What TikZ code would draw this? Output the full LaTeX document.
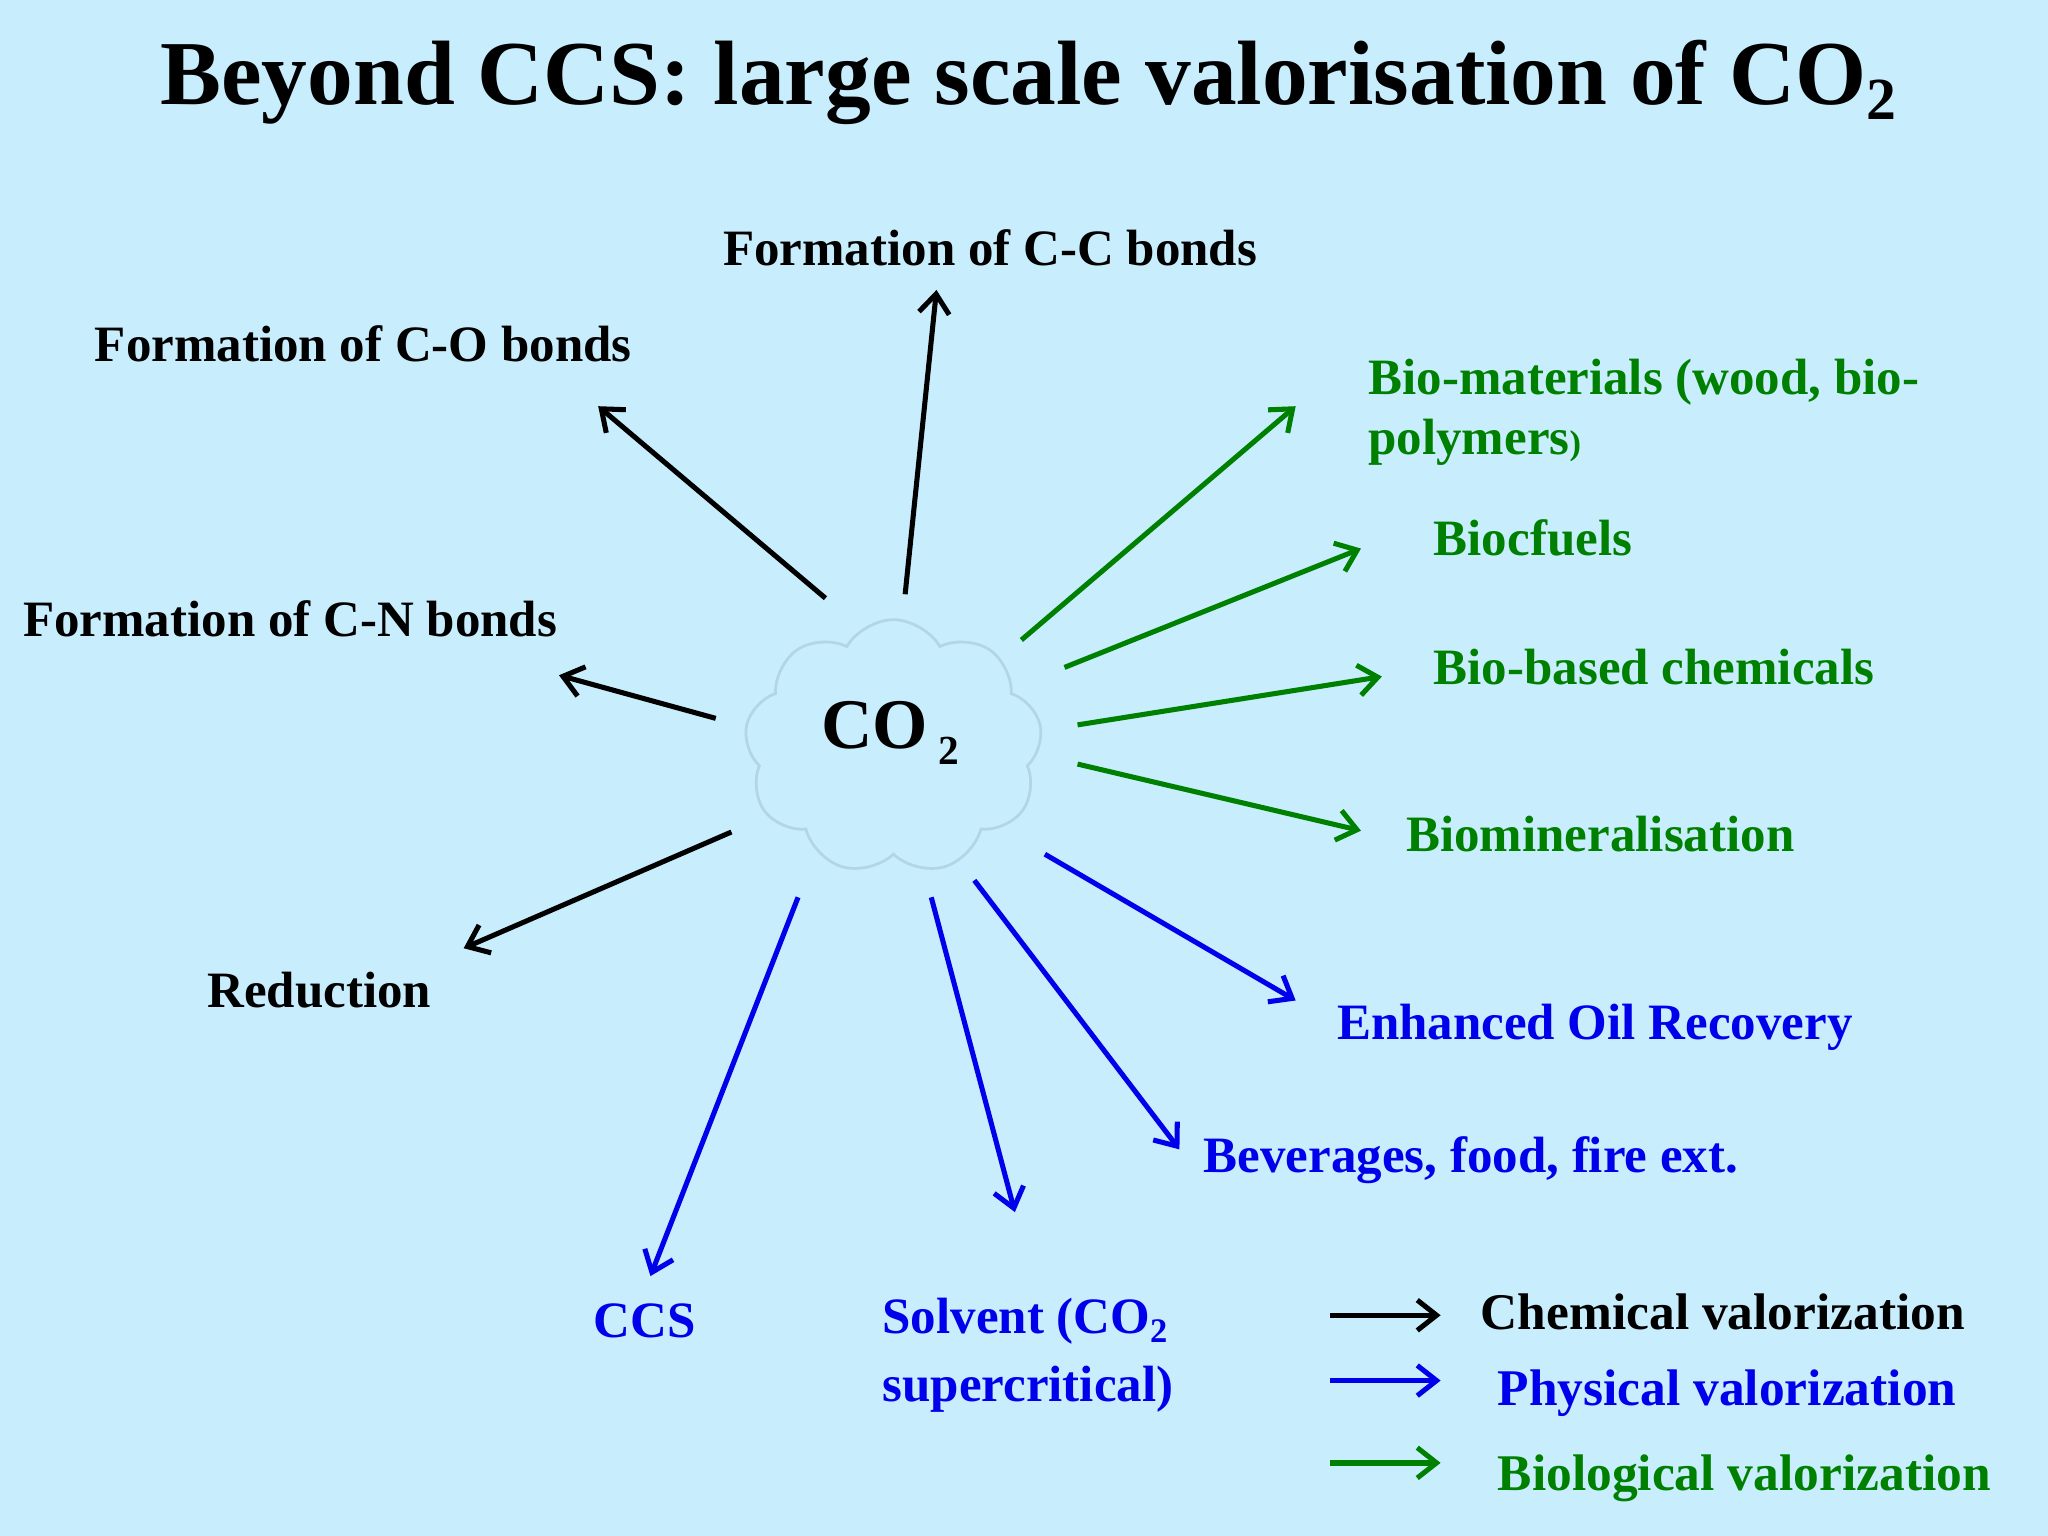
\documentclass[tikz,border=0pt]{standalone}
\usepackage{fontspec}
\setmainfont{Liberation Serif}
\usetikzlibrary{arrows.meta,shapes.symbols}
\definecolor{bgblue}{RGB}{200,237,252}
\definecolor{cgreen}{RGB}{0,128,0}
\definecolor{cblue}{RGB}{0,0,235}
\definecolor{cloudline}{RGB}{178,214,228}
\tikzset{
  lbl/.style={anchor=base west,inner sep=0pt,font=\bfseries\fontsize{11.1}{13}\selectfont},
  legtxt/.style={anchor=base west,inner sep=0pt,font=\bfseries\fontsize{11.2}{13}\selectfont},
  arr/.style={line width=1.1pt,-{Straight Barb[length=4.2pt,width=6.6pt,line width=1.1pt]}},
  chem/.style={arr,black},
  phys/.style={arr,cblue},
  bio/.style={arr,cgreen},
}
\begin{document}
\begin{tikzpicture}[x=0.01cm,y=-0.01cm]
\fill[bgblue] (0,0) rectangle (1568,1176);
\useasboundingbox (0,0) rectangle (1568,1176);

% title
\node[anchor=base west,inner sep=0pt,font=\bfseries\fontsize{19.9}{24}\selectfont] (title) at (122,80) {Beyond CCS: large scale valorisation of CO\raisebox{-0.35ex}{\fontsize{13}{14}\selectfont 2}};

% cloud
\node[cloud,draw=cloudline,line width=0.6pt,fill=bgblue,cloud puffs=9,cloud puff arc=120,aspect=1.15,minimum width=2.28cm,minimum height=1.95cm] (cloud) at (684,572) {};
\node[anchor=base west,inner sep=0pt,font=\bfseries\fontsize{15.5}{18}\selectfont] (co) at (628,573) {CO};
\node[anchor=base west,inner sep=0pt,font=\bfseries\fontsize{9}{10}\selectfont] (two) at (718,585) {2};

% labels
\node[lbl] (cc) at (553,203) {Formation of C-C bonds};
\node[lbl] (co2b) at (72,277) {Formation of C-O bonds};
\node[lbl] (cn) at (17,487) {Formation of C-N bonds};
\node[lbl] (red) at (158,771) {Reduction};
\node[lbl,text=cgreen] (biom1) at (1047,302) {Bio-materials (wood, bio-};
\node[lbl,text=cgreen] (biom2) at (1047,348) {polymers{\fontsize{7.5}{9}\selectfont)}};
\node[lbl,text=cgreen] (biof) at (1097,425) {Biocfuels};
\node[lbl,text=cgreen] (bioc) at (1097,524) {Bio-based chemicals};
\node[lbl,text=cgreen] (biomin) at (1076,652) {Biomineralisation};
\node[lbl,text=cblue] (eor) at (1023,796) {Enhanced Oil Recovery};
\node[lbl,text=cblue] (bev) at (921,898) {Beverages, food, fire ext.};
\node[lbl,text=cblue] (ccs) at (454,1024) {CCS};
\node[lbl,text=cblue] (solv1) at (675,1021) {Solvent (CO\raisebox{-0.4ex}{\fontsize{7.5}{9}\selectfont 2}};
\node[lbl,text=cblue] (solv2) at (675,1073) {supercritical)};

% arrow endpoints
\coordinate (s1) at (632,458); \coordinate (e1) at (458,311);
\coordinate (s2) at (693,455); \coordinate (e2) at (717,222);
\coordinate (s3) at (548,550); \coordinate (e3) at (428,517);
\coordinate (s4) at (560,637); \coordinate (e4) at (355,726);
\coordinate (s5) at (782,490); \coordinate (e5) at (992,311);
\coordinate (s6) at (815,511); \coordinate (e6) at (1042,420);
\coordinate (s7) at (825,555); \coordinate (e7) at (1058,518);
\coordinate (s8) at (825,585); \coordinate (e8) at (1042,636);
\coordinate (s9) at (800,654); \coordinate (e9) at (992,766);
\coordinate (s10) at (746,674); \coordinate (e10) at (903,880);
\coordinate (s11) at (713,687); \coordinate (e11) at (777,928);
\coordinate (s12) at (611,687); \coordinate (e12) at (498,977);

\draw[chem] (s1) -- (e1);
\draw[chem] (s2) -- (e2);
\draw[chem] (s3) -- (e3);
\draw[chem] (s4) -- (e4);
\draw[bio] (s5) -- (e5);
\draw[bio] (s6) -- (e6);
\draw[bio] (s7) -- (e7);
\draw[bio] (s8) -- (e8);
\draw[phys] (s9) -- (e9);
\draw[phys] (s10) -- (e10);
\draw[phys] (s11) -- (e11);
\draw[phys] (s12) -- (e12);

% legend
\coordinate (l1a) at (1018,1007); \coordinate (l1b) at (1103,1007);
\coordinate (l2a) at (1018,1057); \coordinate (l2b) at (1103,1057);
\coordinate (l3a) at (1018,1120); \coordinate (l3b) at (1103,1120);
\draw[chem,line width=1.2pt] (l1a) -- (l1b);
\draw[phys,line width=1.2pt] (l2a) -- (l2b);
\draw[bio,line width=1.2pt] (l3a) -- (l3b);
\node[legtxt] (lg1) at (1133,1018) {Chemical valorization};
\node[legtxt,text=cblue] (lg2) at (1146,1076) {Physical valorization};
\node[legtxt,text=cgreen] (lg3) at (1146,1141) {Biological valorization};
\end{tikzpicture}
\end{document}
